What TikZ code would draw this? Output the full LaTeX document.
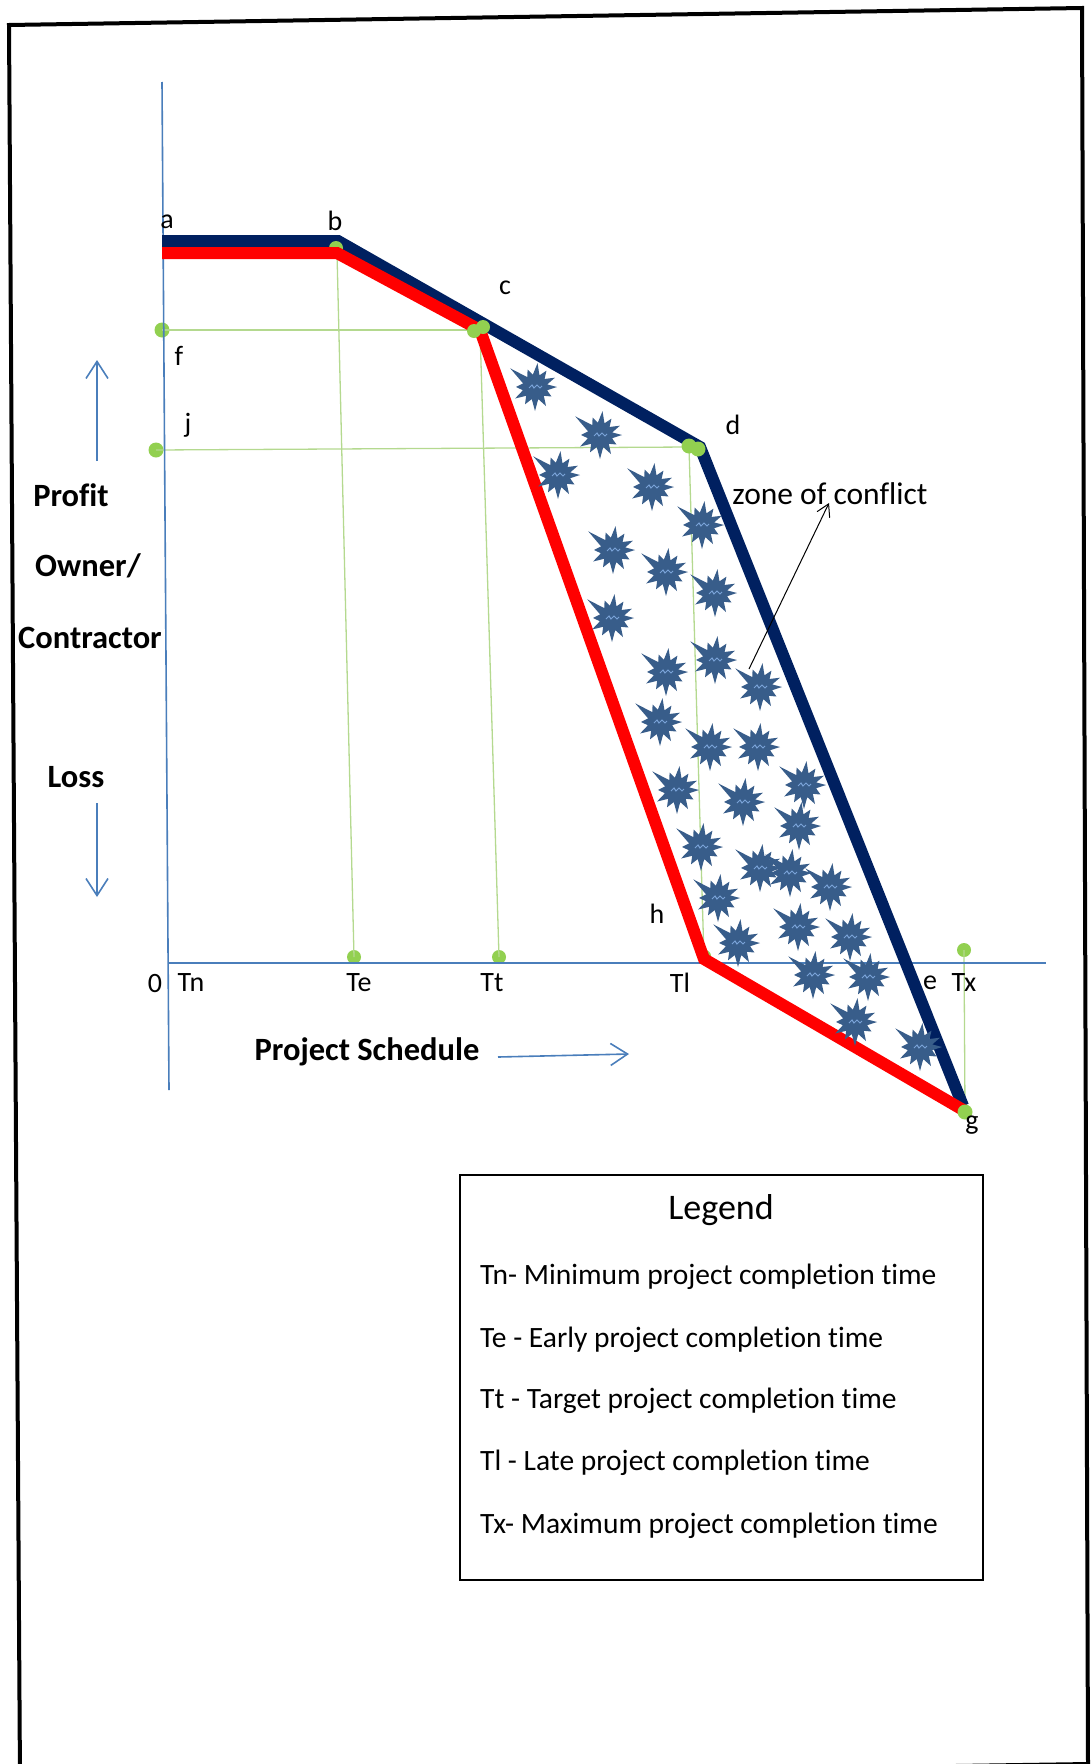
\documentclass[tikz,border=0pt]{standalone}
\usepackage{fontspec}
\setmainfont[Ligatures={NoCommon}]{Carlito}
\usetikzlibrary{arrows.meta}

\definecolor{navyline}{HTML}{002060}
\definecolor{redline}{HTML}{FF0000}
\definecolor{axisblue}{HTML}{4A7EBB}
\definecolor{guidegreen}{HTML}{B4D98F}
\definecolor{dotgreen}{HTML}{92D050}
\definecolor{burstblue}{HTML}{385D8A}
\definecolor{burstmark}{HTML}{7AA3D8}

\tikzset{
  lbl/.style={font=\fontsize{28}{34}\selectfont, inner sep=0pt},
  boldlbl/.style={font=\fontsize{32.5}{39}\selectfont\bfseries, inner sep=0pt},
  legendtxt/.style={font=\fontsize{29.5}{35}\selectfont, inner sep=0pt, anchor=west},
  guide/.style={draw=guidegreen, line width=1.3pt},
  gdot/.style={circle, fill=dotgreen, minimum size=15pt, inner sep=0pt},
  navypath/.style={draw=navyline, line width=12pt},
  redpath/.style={draw=redline, line width=12pt},
  axisline/.style={draw=axisblue, line width=1.6pt},
  bluearrow/.style={axisline, -{Straight Barb[length=17pt,width=22pt,line width=1.6pt]}},
  burst/.pic={
    \fill[burstblue] (0:22) -- (15:12.5) -- (30:19) -- (45:12.5) -- (60:22) -- (75:12.5)
      -- (90:24) -- (105:12.5) -- (120:20) -- (135:12.5) -- (150:23) -- (165:12.5)
      -- (180:19) -- (197:12.5) -- (217:31) -- (232:12.5) -- (247:19) -- (260:12.5)
      -- (276:24) -- (291:12.5) -- (305:20) -- (320:12.5) -- (335:22) -- (348:12.5) -- cycle;
    \draw[burstmark, line width=1pt] (-6,1) -- (-3,-2) -- (-1,1) -- (2,-2) -- (5,1) -- (7,-1);
  }
}

\begin{document}
\begin{tikzpicture}[x=1pt,y=-1pt]
\useasboundingbox (0,0) rectangle (1091,1764);

% page frame
\draw[line width=4pt, line join=miter] (9,25) -- (1082,8) -- (1088,1764) -- (20,1780) -- cycle;

% corner points of the two profit curves
\coordinate (a1) at (162,241);
\coordinate (b1) at (338,241);
\coordinate (d1) at (700,447);
\coordinate (g1) at (963,1106);
\coordinate (a2) at (162,253);
\coordinate (b2) at (337,253);
\coordinate (c2) at (480,330);
\coordinate (h2) at (704,959);
\coordinate (g2) at (965,1111);

% axes
\coordinate (ytop) at (162,82);
\coordinate (ybot) at (169,1090);
\coordinate (xleft) at (169,963);
\coordinate (xright) at (1046,963);

% green markers
\node[gdot] (dotf) at (162,330) {};
\node[gdot] (dotj) at (156,450) {};
\node[gdot, minimum size=14pt] (dotTe) at (354,957) {};
\node[gdot, minimum size=14pt] (dotTt) at (499,957) {};
\node[gdot, minimum size=14pt] (dotTx) at (964,950) {};

% guide lines
\draw[guide] (dotf.center) -- (c2);
\draw[guide] (dotj.center) -- (689,447) coordinate (dguide);
\draw[guide] (b2) -- (dotTe.center);
\draw[guide] (c2) -- (dotTt.center);
\draw[guide] (dguide) -- (h2);
\draw[guide] (dotTx.center) -- (g2);

\draw[axisline] (ytop) -- (ybot);
\draw[axisline] (xleft) -- (xright);

% upper (navy) curve
\draw[navypath] (a1) -- (b1) -- (d1) -- (g1);

\node[gdot, minimum size=14pt] (dotb) at (336,248) {};
\node[gdot, minimum size=12pt] (doth) at (705,956) {};

% lower (red) curve
\draw[redpath] (a2) -- (b2) -- (c2) -- (h2) -- (g2);

% zone of conflict bursts
\foreach \sx/\sy in {535/387, 600/435, 558/475, 652/487, 702/525, 613/550, 666/572,
  715/593, 612/618, 666/672, 715/660, 760/687, 660/722, 710/747, 758/747, 677/790,
  743/802, 804/785, 799/826, 701/847, 760/868, 790/873, 830/887, 718/898, 798/927,
  738/943, 850/937, 813/975, 868/977, 855/1022, 920/1047}
  \pic at (\sx,\sy) {burst};

% markers on the corners
\node[gdot, minimum size=14pt] (dotc1) at (474,331) {};
\node[gdot, minimum size=14pt] (dotc2) at (483,327) {};
\node[gdot, minimum size=15pt] (dotd1) at (689,446) {};
\node[gdot, minimum size=15pt] (dotd2) at (698,449) {};
\node[gdot, minimum size=15pt] (dotg) at (965,1112) {};

% point labels
\node[lbl] (la) at (167,222) {a};
\node[lbl] (lb) at (335,221) {b};
\node[lbl] (lc) at (505,288) {c};
\node[lbl] (ld) at (733,425) {d};
\node[lbl] (lf) at (179,356) {f};
\node[lbl] (lj) at (188,425) {j};
\node[lbl] (lh) at (657,914) {h};
\node[lbl] (lg) at (972,1125) {g};

% time axis labels
\node[lbl] (l0) at (155,983) {0};
\node[lbl] (lTn) at (191,983) {Tn};
\node[lbl] (lTe) at (359,983) {Te};
\node[lbl] (lTt) at (492,983) {Tt};
\node[lbl] (lTl) at (680,983) {Tl};
\node[lbl] (le) at (930,983) {e};
\node[lbl] (lTx) at (964,983) {Tx};

% zone of conflict callout
\node[lbl, font=\fontsize{31.5}{37}\selectfont] (zone) at (830,494) {zone of conflict};
\coordinate (zonetail) at (749,669);
\draw[line width=1pt, -{Straight Barb[length=12pt,width=14pt,line width=1pt]}] (zonetail) -- (829,503) coordinate (zonetip);

% vertical axis description
\node[boldlbl] (profit) at (71,495) {Profit};
\node[boldlbl] (owner) at (88,566) {Owner/};
\node[boldlbl] (contractor) at (90,638) {Contractor};
\node[boldlbl] (loss) at (76,777) {Loss};
\coordinate (upfrom) at (97,461);
\coordinate (upto) at (97,360);
\coordinate (downfrom) at (97,803);
\coordinate (downto) at (97,897);
\draw[bluearrow] (upfrom) -- (upto);
\draw[bluearrow] (downfrom) -- (downto);

% horizontal axis description
\node[boldlbl] (schedule) at (367,1052) {Project Schedule};
\coordinate (schedfrom) at (498,1057);
\coordinate (schedto) at (629,1054);
\draw[bluearrow] (schedfrom) -- (schedto);

% legend
\node[draw, line width=1.6pt, minimum width=523pt, minimum height=405pt, inner sep=0pt] (legendbox) at (721.5,1377.5) {};
\node[lbl, font=\fontsize{36}{42}\selectfont] (legendtitle) at (721,1210) {Legend};
\node[legendtxt] (leg1) at (480,1277) {Tn- Minimum project completion time};
\node[legendtxt] (leg2) at (480,1340) {Te - Early project completion time};
\node[legendtxt] (leg3) at (480,1401) {Tt - Target project completion time};
\node[legendtxt] (leg4) at (480,1463) {Tl - Late project completion time};
\node[legendtxt] (leg5) at (480,1526) {Tx- Maximum project completion time};
\end{tikzpicture}
\end{document}
